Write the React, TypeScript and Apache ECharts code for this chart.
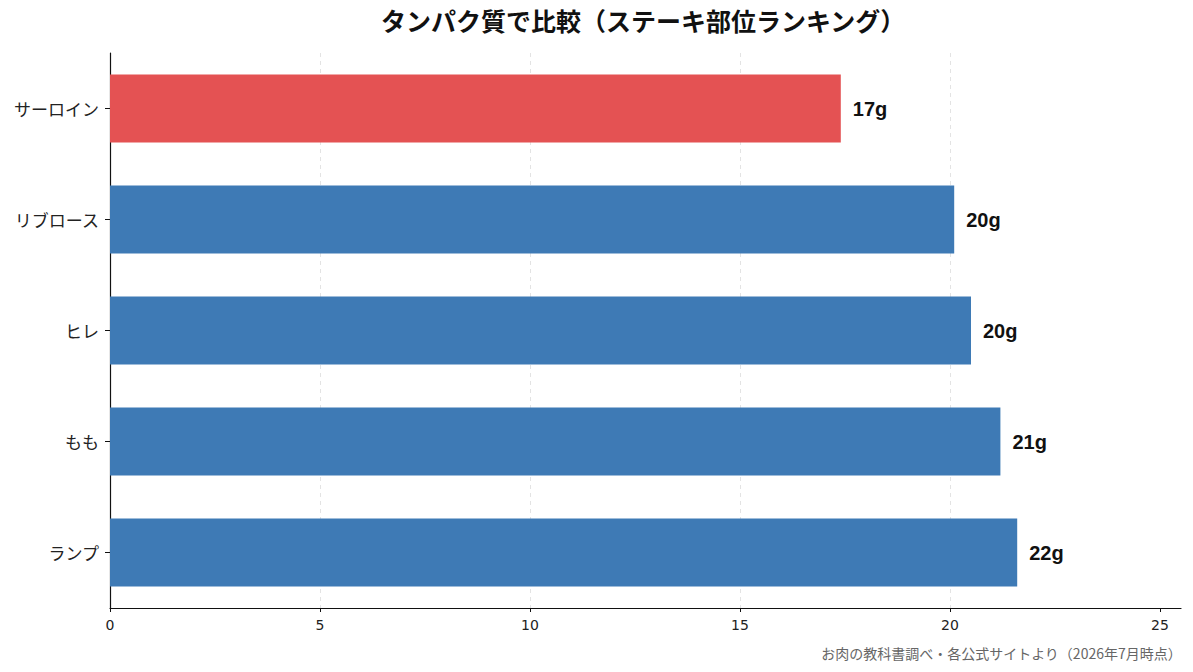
import * as echarts from "echarts";
import { useEffect, useRef } from "react";

const cuts = ["サーロイン", "リブロース", "ヒレ", "もも", "ランプ"];
const protein = [17.4, 20.1, 20.5, 21.2, 21.6];
const proteinLabels = ["17g", "20g", "20g", "21g", "22g"];
const highlight = "サーロイン";
const xTicks = [0, 5, 10, 15, 20, 25];

const FONT = "'Noto Sans CJK JP', 'Noto Sans', sans-serif";

export default function App() {
  const ref = useRef<HTMLDivElement>(null);

  useEffect(() => {
    if (!ref.current) return;

    const chart = echarts.init(ref.current, null, { renderer: "svg" });

    chart.setOption({
      animation: false,
      textStyle: { fontFamily: FONT },
      title: {
        text: "タンパク質で比較（ステーキ部位ランキング）",
        left: 638,
        top: 2,
        textAlign: "center",
        textStyle: { fontSize: 25, fontWeight: "bold", color: "#111", fontFamily: FONT },
      },
      grid: { left: 110, right: 12, top: 53, height: 555 },

      xAxis: {
        type: "value",
        min: 0,
        max: 25.5,
        interval: 5,
        axisLine: { show: true, lineStyle: { color: "#111", width: 1.2 } },
        axisTick: { show: true, length: 4, customValues: xTicks, lineStyle: { color: "#111" } },
        axisLabel: {
          showMaxLabel: false,
          color: "#222",
          fontSize: 14,
          margin: 10,
          fontFamily: "'DejaVu Sans', sans-serif",
          formatter: (v: number) => (xTicks.includes(v) ? String(v) : ""),
        },
        splitLine: {
          show: true,
          showMinLine: false,
          showMaxLine: false,
          lineStyle: { color: "#e3e3e3", type: [4, 4], width: 1 },
        },
      },

      yAxis: {
        type: "category",
        inverse: true,
        data: cuts,
        axisLine: { show: true, lineStyle: { color: "#111", width: 1.2 } },
        axisTick: { show: true, alignWithLabel: true, length: 5, lineStyle: { color: "#111" } },
        axisLabel: { color: "#222", fontSize: 17, margin: 11 },
        splitLine: { show: false },
      },

      series: [
        {
          type: "bar",
          barWidth: 68,
          data: protein.map((v, i) => ({
            value: v,
            itemStyle: { color: cuts[i] === highlight ? "#e45253" : "#3e7ab5" },
          })),
          label: {
            show: true,
            position: "right",
            distance: 12,
            formatter: (p: any) => proteinLabels[p.dataIndex],
            fontSize: 20,
            fontWeight: "bold",
            color: "#111",
            fontFamily: "'Liberation Sans', Arial, sans-serif",
          },
        },
      ],

      graphic: [
        {
          type: "text",
          right: 11,
          top: 646,
          style: {
            text: "お肉の教科書調べ・各公式サイトより（2026年7月時点）",
            fill: "#666",
            fontSize: 14,
            fontFamily: FONT,
          },
        },
      ],
    });

    return () => chart.dispose();
  }, []);

  return (
    <div
      ref={ref}
      style={{ position: "fixed", left: 0, top: 0, width: 1193, height: 672, background: "#fff" }}
    />
  );
}
